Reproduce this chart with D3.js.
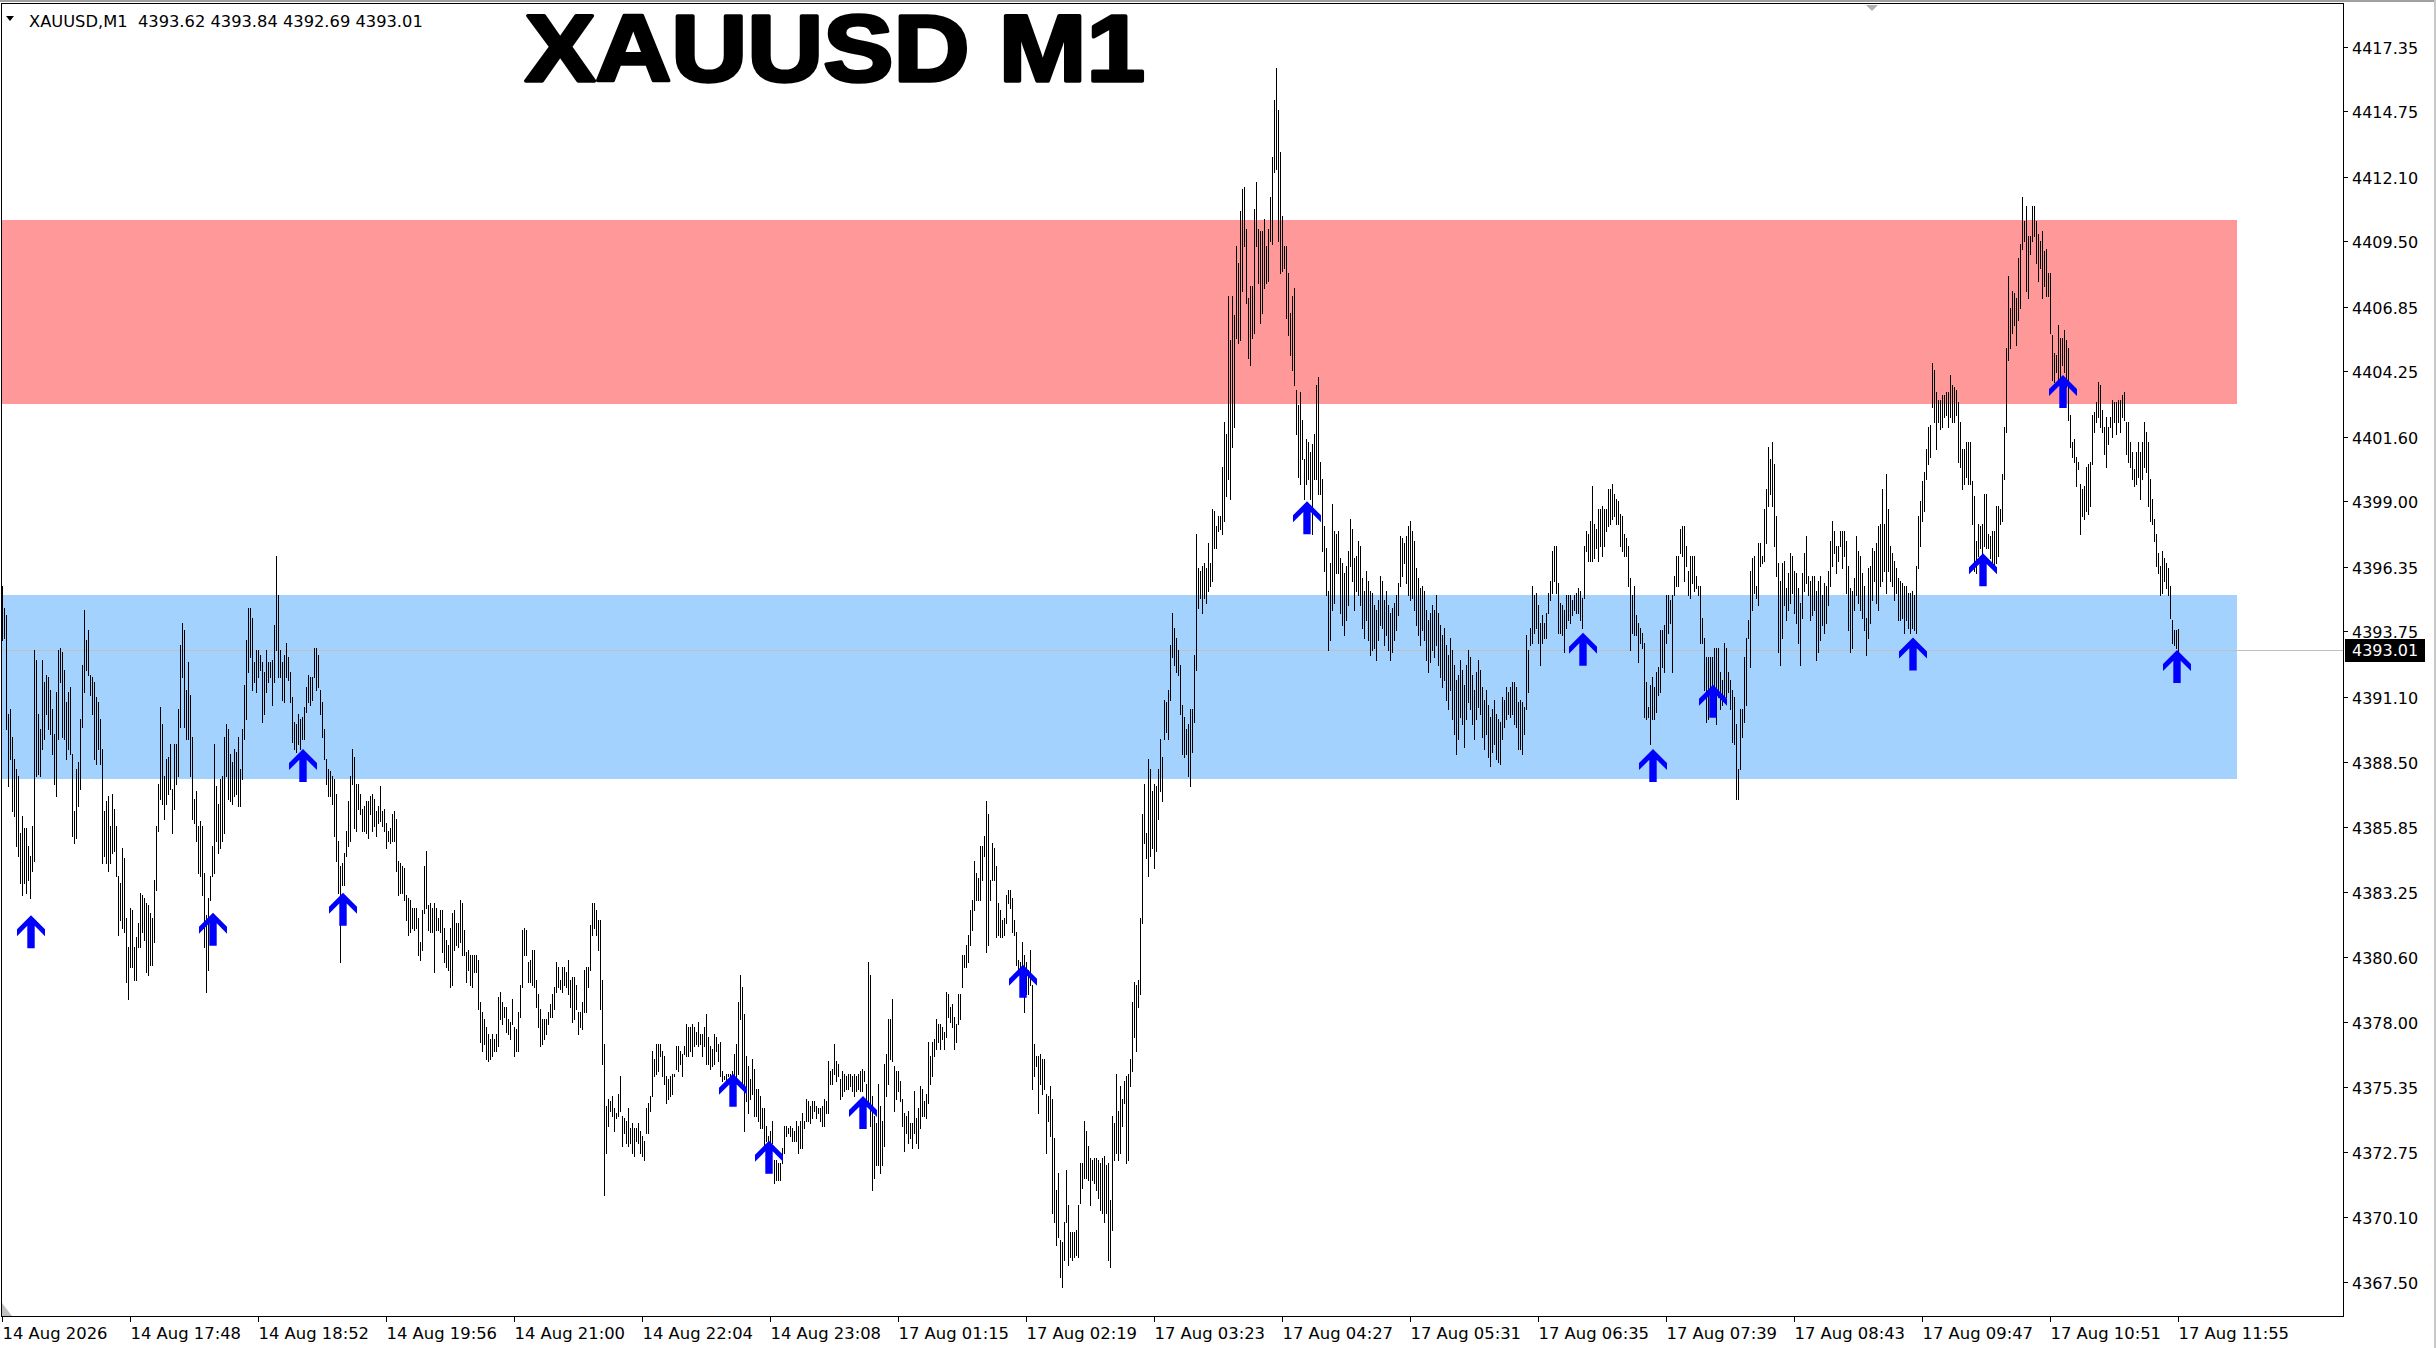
<!DOCTYPE html>
<html><head><meta charset="utf-8">
<script src="https://cdn.jsdelivr.net/npm/d3@7"></script>
<style>html,body{margin:0;padding:0;background:#fff;overflow:hidden}</style>
</head><body>
<svg id="c" width="2436" height="1348"></svg>
<script>
// ---------------- DATA ----------------
const symbol = "XAUUSD,M1";
const titleText = "XAUUSD M1";
const lastOHLC = [4393.62, 4393.84, 4392.69, 4393.01];
const timeLabels = ["14 Aug 2026","14 Aug 17:48","14 Aug 18:52","14 Aug 19:56","14 Aug 21:00","14 Aug 22:04","14 Aug 23:08","17 Aug 01:15","17 Aug 02:19","17 Aug 03:23","17 Aug 04:27","17 Aug 05:31","17 Aug 06:35","17 Aug 07:39","17 Aug 08:43","17 Aug 09:47","17 Aug 10:51","17 Aug 11:55"];
const barsPerLabel = 64;
const priceTicks = [4417.35,4414.75,4412.10,4409.50,4406.85,4404.25,4401.60,4399.00,4396.35,4393.75,4391.10,4388.50,4385.85,4383.25,4380.60,4378.00,4375.35,4372.75,4370.10,4367.50];
const zoneTops = [4410.35, 4395.22];
const zoneBottoms = [4402.93, 4387.81];
const zoneEndBar = 1117;
const arrowBars = [14,105,150,170,365,383,430,510,652,790,825,855,955,990,1030,1087];
const arrowPrices = [4382.3,4382.4,4389.0,4383.2,4375.9,4373.2,4375.0,4380.3,4399.0,4393.7,4389.0,4391.6,4393.5,4396.9,4404.1,4393.0];
const highs = [
4395.6,4394.7,4394.4,4390.4,4390.6,4389.5,4388.6,4388.2,4387.9,4385.6,
4386.3,4385.8,4385.8,4385.1,4384.7,4385.9,4393.0,4392.6,4390.4,4389.8,
4392.6,4391.7,4392.0,4391.9,4391.4,4390.6,4389.6,4391.3,4393.0,4393.1,
4392.9,4392.2,4390.9,4391.3,4391.5,4388.8,4386.5,4388.2,4388.5,4390.2,
4392.4,4394.6,4393.4,4393.8,4392.0,4391.9,4391.7,4391.1,4390.9,4390.2,
4389.0,4386.5,4386.9,4387.1,4385.9,4387.2,4386.6,4385.9,4383.9,4383.6,
4385.0,4384.6,4382.2,4381.0,4382.6,4382.5,4381.0,4381.4,4382.0,4383.2,
4383.1,4383.0,4382.8,4382.7,4382.4,4382.2,4383.7,4385.9,4387.6,4390.7,
4390.0,4387.9,4388.6,4388.7,4389.2,4387.4,4389.2,4389.2,4390.6,4393.2,
4394.1,4393.8,4391.4,4392.5,4391.2,4389.5,4387.0,4387.3,4385.9,4386.1,
4385.9,4384.0,4382.3,4383.0,4383.9,4385.1,4389.2,4387.5,4386.8,4387.8,
4387.9,4389.5,4390.0,4389.8,4388.8,4388.5,4389.0,4388.9,4389.5,4388.2,
4389.8,4391.6,4393.4,4394.7,4394.7,4394.3,4392.5,4393.0,4393.0,4392.8,
4392.5,4392.1,4393.0,4392.5,4392.5,4392.6,4394.0,4396.8,4395.2,4393.0,
4392.5,4392.8,4393.3,4392.7,4392.1,4391.1,4390.1,4390.0,4390.4,4390.2,
4390.3,4390.7,4391.5,4392.0,4391.9,4391.9,4393.1,4393.1,4392.8,4391.4,
4390.9,4389.8,4388.6,4388.2,4388.1,4387.9,4387.8,4387.2,4385.3,4384.3,
4384.4,4384.8,4385.7,4386.9,4387.9,4389.0,4388.7,4387.6,4387.6,4387.2,
4386.6,4386.7,4386.9,4386.9,4387.1,4387.2,4387.0,4386.5,4386.7,4387.5,
4386.5,4386.6,4386.0,4385.7,4385.8,4386.4,4386.5,4386.2,4384.5,4384.4,
4384.3,4384.2,4383.1,4383.0,4382.9,4382.6,4382.6,4382.6,4382.2,4381.2,
4382.5,4384.3,4384.9,4382.7,4382.8,4382.6,4382.8,4382.6,4382.2,4382.5,
4382.5,4381.8,4381.3,4381.1,4381.8,4382.4,4382.5,4382.0,4382.0,4382.9,
4382.8,4381.7,4380.8,4380.9,4380.7,4380.7,4380.7,4380.7,4380.5,4378.8,
4378.4,4378.1,4377.8,4377.5,4377.3,4377.5,4377.3,4377.5,4379.0,4379.2,
4378.8,4378.6,4378.6,4378.1,4378.0,4378.9,4377.8,4377.7,4378.4,4379.5,
4381.7,4381.8,4381.7,4380.4,4380.5,4380.9,4380.9,4379.7,4379.1,4378.5,
4378.1,4378.1,4378.1,4378.4,4378.7,4379.1,4379.4,4380.4,4380.2,4379.7,
4380.2,4380.2,4380.0,4380.5,4379.7,4379.8,4379.8,4379.5,4378.4,4378.4,
4378.8,4380.1,4380.2,4380.2,4381.9,4382.8,4382.8,4382.5,4382.1,4382.1,
4379.7,4377.1,4374.6,4374.9,4374.8,4375.0,4374.5,4374.3,4375.1,4375.8,
4374.2,4374.1,4374.0,4374.5,4373.7,4373.9,4373.7,4373.7,4373.9,4373.6,
4373.4,4373.2,4374.5,4374.7,4375.0,4376.8,4376.5,4377.1,4377.1,4377.1,
4376.8,4376.6,4375.8,4375.7,4375.8,4375.9,4375.9,4377.0,4377.0,4376.8,
4376.7,4377.0,4377.9,4377.8,4377.8,4377.9,4377.8,4377.6,4378.0,4377.5,
4377.5,4377.8,4378.3,4377.4,4377.0,4376.9,4377.5,4377.4,4377.1,4377.2,
4376.0,4375.8,4375.9,4375.9,4375.9,4376.0,4376.7,4377.1,4378.8,4379.9,
4379.4,4378.3,4376.6,4376.2,4375.7,4376.5,4376.1,4375.3,4375.3,4375.0,
4374.5,4374.5,4373.8,4373.4,4373.6,4374.0,4372.4,4372.4,4372.3,4372.3,
4372.9,4373.8,4373.8,4373.7,4373.8,4373.7,4373.6,4374.0,4373.8,4374.0,
4374.3,4374.0,4374.9,4374.8,4374.6,4374.8,4374.8,4374.6,4374.5,4374.5,
4374.6,4374.9,4374.8,4376.4,4376.0,4376.1,4377.1,4376.4,4376.3,4375.7,
4376.0,4375.9,4375.8,4375.9,4375.9,4375.8,4375.9,4375.8,4375.9,4376.0,
4376.1,4376.0,4375.5,4380.4,4379.9,4375.0,4374.2,4373.9,4375.5,4374.6,
4374.0,4376.3,4376.7,4378.1,4378.1,4378.9,4376.2,4376.0,4376.0,4375.6,
4374.9,4374.3,4374.2,4374.4,4373.9,4373.9,4375.2,4374.1,4374.5,4375.4,
4375.3,4374.8,4375.1,4377.2,4376.6,4377.2,4377.3,4378.1,4377.9,4377.9,
4377.8,4377.6,4379.2,4379.1,4378.6,4378.7,4378.2,4377.9,4379.1,4379.1,
4380.7,4380.7,4381.1,4381.5,4382.5,4382.9,4384.5,4384.0,4383.8,4385.1,
4385.1,4385.5,4386.9,4386.4,4383.7,4385.2,4385.0,4384.3,4382.8,4382.5,
4382.1,4382.2,4383.1,4383.3,4383.3,4383.0,4382.1,4381.6,4380.5,4380.4,
4381.2,4380.7,4380.4,4380.1,4380.9,4379.5,4377.1,4376.6,4376.6,4376.7,
4376.5,4376.5,4375.1,4375.0,4375.4,4374.9,4373.3,4371.2,4371.9,4369.2,
4369.1,4369.9,4372.0,4370.6,4369.5,4369.5,4369.5,4369.6,4370.6,4372.3,
4372.3,4374.0,4373.6,4373.0,4372.5,4372.4,4372.5,4372.5,4372.4,4372.3,
4372.5,4372.6,4372.2,4372.3,4370.8,4374.2,4373.9,4375.9,4374.4,4375.4,
4374.9,4375.6,4375.8,4375.9,4376.5,4378.8,4379.6,4379.5,4379.7,4382.2,
4386.4,4387.6,4385.6,4388.6,4388.2,4387.3,4387.6,4387.5,4388.2,4389.4,
4388.7,4391.0,4390.9,4391.4,4393.2,4394.5,4393.9,4393.5,4393.0,4392.4,
4390.8,4390.3,4389.8,4390.0,4390.6,4390.6,4392.8,4397.7,4396.3,4396.2,
4396.4,4396.5,4396.3,4397.3,4396.5,4398.7,4398.6,4398.0,4398.4,4398.4,
4400.4,4402.2,4401.7,4407.3,4405.5,4407.3,4406.5,4409.3,4408.6,4410.7,
4411.6,4411.7,4410.0,4407.2,4407.7,4407.7,4410.8,4411.9,4410.0,4409.9,
4409.9,4410.4,4409.3,4410.0,4411.3,4412.9,4415.2,4416.5,4414.8,4413.1,
4410.5,4409.3,4409.3,4408.2,4406.6,4407.3,4407.6,4403.5,4402.9,4403.4,
4402.3,4400.7,4401.5,4401.4,4401.0,4401.3,4401.7,4403.7,4404.0,4400.6,
4399.9,4398.0,4397.1,4395.4,4396.5,4398.9,4397.8,4397.7,4397.8,4396.7,
4396.5,4396.1,4396.4,4397.0,4398.3,4397.9,4396.7,4396.8,4397.4,4397.2,
4395.9,4395.4,4396.2,4395.8,4395.4,4395.3,4394.8,4394.6,4395.0,4396.0,
4395.8,4395.0,4395.4,4394.8,4394.5,4394.7,4394.9,4395.2,4395.7,4397.6,
4397.5,4397.3,4397.6,4398.0,4398.2,4397.8,4397.4,4396.3,4395.9,4395.5,
4395.6,4395.4,4394.6,4394.2,4394.5,4394.8,4394.6,4395.2,4394.5,4394.0,
4393.6,4393.9,4393.2,4392.8,4393.5,4393.0,4392.4,4391.8,4392.0,4392.6,
4392.2,4391.6,4392.4,4393.0,4392.7,4392.0,4391.4,4392.1,4392.6,4392.2,
4391.5,4391.0,4391.4,4390.8,4390.3,4390.6,4391.0,4390.4,4390.2,4390.1,
4391.1,4391.0,4391.5,4391.3,4391.5,4391.7,4391.7,4391.5,4390.9,4391.0,
4390.9,4390.7,4393.6,4393.0,4393.9,4395.6,4395.2,4395.3,4394.8,4394.1,
4394.4,4394.1,4394.5,4395.3,4395.8,4397.0,4397.2,4397.2,4395.7,4394.9,
4394.8,4394.6,4395.2,4395.2,4395.2,4395.0,4395.2,4395.3,4395.5,4395.4,
4395.1,4397.2,4397.8,4397.7,4398.2,4399.6,4398.1,4397.9,4398.7,4398.7,
4398.8,4398.7,4398.7,4399.5,4399.5,4399.7,4399.3,4399.1,4399.0,4398.5,
4398.4,4397.7,4397.5,4397.2,4395.9,4395.2,4395.6,4394.4,4394.1,4393.9,
4393.7,4393.3,4391.7,4390.7,4391.6,4391.9,4391.5,4392.1,4392.3,4393.8,
4393.8,4394.0,4395.2,4395.2,4395.0,4395.2,4396.0,4396.8,4396.8,4397.9,
4398.0,4398.0,4397.2,4396.2,4396.8,4396.8,4396.8,4396.0,4395.6,4395.6,
4394.3,4393.5,4392.7,4392.7,4392.7,4392.7,4393.1,4393.1,4393.1,4392.1,
4391.8,4393.3,4393.1,4392.1,4391.8,4391.4,4391.1,4390.0,4388.2,4390.6,
4390.6,4392.7,4393.5,4394.2,4396.2,4396.7,4396.8,4395.6,4397.3,4397.3,
4396.8,4398.7,4399.5,4401.2,4400.7,4401.4,4400.5,4398.4,4396.5,4395.8,
4396.5,4396.6,4395.5,4396.1,4396.9,4396.8,4396.2,4396.1,4395.5,4394.9,
4396.1,4396.9,4397.6,4396.0,4395.8,4396.0,4396.0,4395.4,4395.8,4396.0,
4395.2,4395.7,4395.6,4396.2,4397.4,4398.2,4397.8,4397.2,4397.2,4397.8,
4397.8,4397.8,4397.4,4396.4,4395.5,4395.4,4395.9,4397.6,4397.0,4396.8,
4396.1,4395.6,4394.3,4396.3,4396.4,4397.1,4397.0,4397.3,4398.0,4398.1,
4399.5,4398.1,4400.1,4398.7,4397.2,4396.9,4396.6,4396.3,4395.9,4395.8,
4395.7,4395.6,4395.6,4395.3,4395.3,4395.4,4395.2,4396.4,4398.4,4399.0,
4399.8,4400.2,4401.1,4402.0,4402.1,4404.6,4404.3,4403.4,4403.1,4403.1,
4403.3,4403.3,4403.4,4403.4,4404.1,4403.7,4403.6,4403.5,4403.0,4402.2,
4401.1,4401.1,4401.4,4401.4,4401.4,4399.8,4399.2,4397.4,4398.1,4398.0,
4398.1,4399.3,4399.3,4397.7,4397.6,4397.8,4397.8,4398.8,4398.8,4398.7,
4400.1,4402.0,4405.2,4408.1,4406.8,4407.5,4407.4,4407.2,4408.8,4409.4,
4411.3,4410.3,4410.9,4409.7,4409.7,4410.9,4410.9,4410.3,4409.8,4409.5,
4409.9,4409.1,4409.2,4408.2,4408.2,4405.7,4405.0,4404.9,4406.1,4405.6,
4405.6,4405.9,4405.5,4405.2,4402.5,4401.4,4401.5,4400.8,4400.6,4399.7,
4399.5,4399.6,4400.4,4400.5,4400.6,4402.5,4402.6,4403.0,4403.8,4403.7,
4402.7,4402.0,4402.4,4402.0,4402.4,4403.1,4403.0,4403.0,4403.1,4403.1,
4403.3,4403.4,4402.2,4402.2,4401.4,4401.0,4400.3,4401.0,4401.4,4401.0,
4401.4,4402.2,4401.8,4401.4,4399.9,4399.1,4398.3,4397.7,4396.9,4396.4,
4397.0,4396.7,4396.5,4396.3,4395.6,4394.2,4393.8,4393.8,4393.84
];
const lows = [
4393.4,4393.5,4389.8,4387.5,4388.6,4386.5,4386.3,4385.1,4384.7,4383.6,
4383.1,4383.6,4383.2,4383.7,4383.0,4384.1,4384.5,4387.9,4388.0,4387.9,
4389.0,4389.4,4390.4,4389.8,4389.6,4388.8,4387.6,4387.1,4389.4,4391.7,
4389.5,4389.4,4388.6,4389.0,4388.8,4385.5,4385.2,4385.4,4386.7,4387.4,
4389.9,4391.3,4392.2,4392.0,4391.2,4390.4,4388.6,4388.4,4389.0,4388.4,
4384.4,4384.7,4384.4,4384.1,4384.4,4384.8,4384.9,4383.9,4381.5,4382.1,
4381.8,4381.6,4379.6,4378.9,4380.2,4380.2,4379.7,4379.7,4381.0,4381.0,
4381.6,4381.3,4380.0,4379.9,4380.3,4380.3,4381.2,4383.3,4385.7,4387.0,
4386.8,4386.2,4386.8,4387.2,4387.4,4385.6,4386.6,4387.6,4387.9,4389.9,
4391.9,4389.9,4389.4,4389.4,4387.9,4386.2,4386.0,4385.3,4384.0,4383.9,
4383.1,4381.0,4379.2,4380.1,4382.9,4383.9,4384.0,4385.3,4384.8,4385.0,
4385.3,4385.6,4387.9,4387.0,4386.9,4386.8,4387.1,4387.2,4386.7,4386.7,
4387.8,4389.4,4390.2,4392.1,4392.7,4391.4,4391.7,4391.3,4391.9,4392.2,
4390.1,4390.4,4391.3,4391.7,4391.9,4390.8,4391.7,4393.0,4391.9,4391.9,
4391.0,4390.9,4391.9,4391.8,4390.9,4389.3,4389.0,4388.9,4389.2,4389.0,
4389.4,4389.4,4390.5,4390.9,4390.8,4391.0,4391.9,4391.4,4391.5,4390.4,
4389.5,4388.6,4387.6,4387.1,4387.1,4386.8,4385.5,4384.5,4383.2,4380.4,
4383.5,4383.5,4384.7,4385.1,4385.3,4387.6,4385.8,4385.7,4386.6,4386.4,
4385.7,4385.7,4385.6,4385.4,4386.4,4385.7,4385.9,4385.5,4386.0,4386.1,
4385.9,4385.7,4385.0,4385.3,4385.2,4385.3,4385.3,4384.1,4383.1,4383.2,
4383.2,4382.9,4382.1,4381.5,4381.6,4381.8,4381.7,4381.8,4380.7,4380.5,
4380.9,4382.4,4382.6,4381.7,4381.6,4381.6,4380.0,4381.7,4381.7,4381.6,
4380.8,4380.4,4380.2,4380.1,4379.4,4379.5,4380.9,4381.1,4381.0,4381.2,
4380.7,4380.7,4379.6,4380.1,4379.5,4379.4,4380.0,4380.0,4378.5,4377.2,
4376.8,4377.1,4376.5,4376.4,4376.5,4376.6,4376.8,4376.8,4377.0,4378.1,
4377.9,4378.2,4377.6,4377.5,4377.3,4377.9,4376.6,4376.8,4376.8,4378.2,
4379.4,4380.7,4380.7,4379.6,4379.6,4379.5,4379.4,4378.6,4377.8,4377.0,
4377.1,4377.3,4377.5,4377.9,4378.2,4378.2,4378.5,4379.2,4379.4,4379.3,
4379.2,4379.5,4379.4,4379.1,4378.6,4378.0,4378.1,4378.5,4377.5,4377.8,
4377.7,4378.4,4378.4,4379.4,4380.1,4381.5,4381.8,4381.5,4380.9,4378.5,
4376.3,4371.0,4372.7,4373.8,4374.4,4374.2,4373.6,4374.1,4374.2,4374.4,
4373.0,4373.5,4373.1,4373.0,4373.1,4372.7,4372.6,4373.2,4373.1,4372.7,
4372.6,4372.4,4373.5,4373.5,4374.4,4375.0,4375.8,4375.9,4376.0,4376.6,
4375.8,4375.5,4374.7,4374.9,4375.0,4375.1,4375.8,4376.1,4376.0,4376.3,
4375.8,4376.7,4376.6,4376.6,4376.8,4376.6,4377.0,4377.1,4377.0,4377.1,
4376.6,4377.0,4376.3,4376.3,4376.1,4376.2,4376.3,4376.8,4376.4,4375.8,
4375.6,4375.7,4375.6,4375.8,4375.6,4375.6,4375.2,4375.6,4375.9,4378.1,
4375.5,4373.6,4374.8,4374.3,4374.9,4375.1,4374.2,4374.2,4374.0,4373.7,
4373.7,4373.0,4373.2,4372.7,4372.7,4373.1,4371.5,4371.6,4371.6,4371.6,
4372.3,4372.7,4373.4,4373.5,4373.4,4373.2,4373.2,4373.2,4372.7,4372.9,
4372.9,4373.7,4374.0,4374.0,4373.9,4374.1,4374.4,4374.1,4374.3,4374.0,
4373.8,4373.8,4374.3,4374.3,4375.5,4375.5,4375.9,4375.6,4375.8,4374.9,
4375.0,4375.2,4375.3,4375.3,4375.4,4375.2,4375.0,4375.2,4375.3,4375.2,
4375.2,4375.6,4374.9,4374.8,4373.8,4371.2,4371.7,4372.2,4372.2,4371.9,
4372.2,4373.0,4375.0,4375.5,4376.5,4376.4,4374.4,4374.9,4375.2,4374.8,
4373.8,4372.8,4373.5,4373.1,4373.3,4372.9,4373.5,4373.1,4372.9,4373.7,
4374.2,4374.2,4374.1,4374.7,4375.5,4375.8,4376.6,4376.9,4377.2,4376.9,
4377.3,4376.9,4377.4,4378.2,4378.0,4377.8,4376.9,4377.2,4377.9,4378.1,
4379.4,4380.2,4380.2,4380.4,4381.1,4381.7,4382.5,4382.9,4382.9,4382.9,
4383.7,4384.7,4380.8,4381.1,4382.9,4383.7,4383.7,4381.4,4381.5,4381.4,
4381.4,4381.5,4382.0,4382.8,4382.6,4381.6,4381.5,4380.3,4380.1,4379.5,
4380.3,4378.4,4379.1,4379.1,4379.5,4375.3,4375.8,4376.2,4374.3,4375.5,
4375.1,4375.3,4372.7,4374.0,4373.4,4370.3,4369.9,4369.0,4369.3,4367.7,
4367.3,4368.4,4369.9,4368.2,4368.5,4368.4,4368.5,4368.6,4368.5,4370.7,
4371.3,4371.7,4371.7,4371.6,4370.6,4371.6,4371.5,4371.2,4370.9,4370.4,
4370.3,4369.9,4370.3,4368.4,4368.1,4369.6,4372.4,4372.7,4372.4,4372.7,
4373.8,4374.7,4372.3,4372.4,4375.4,4376.0,4377.4,4376.8,4378.6,4379.1,
4382.0,4385.2,4384.6,4383.9,4384.7,4385.0,4384.2,4384.9,4386.2,4387.3,
4386.9,4389.4,4389.7,4389.4,4391.0,4392.7,4392.4,4392.1,4392.0,4390.4,
4388.8,4388.7,4388.8,4387.9,4387.5,4388.9,4390.1,4392.2,4394.7,4395.1,
4394.5,4395.1,4394.9,4395.4,4395.6,4395.8,4397.1,4397.1,4397.8,4397.9,
4397.7,4398.2,4399.2,4399.9,4399.1,4401.2,4402.0,4405.6,4405.4,4405.5,
4407.5,4409.3,4407.0,4404.8,4404.5,4405.6,4405.8,4409.3,4407.8,4406.2,
4406.6,4407.6,4407.8,4407.9,4409.5,4409.4,4412.3,4412.4,4409.5,4408.2,
4408.3,4408.4,4406.4,4405.7,4404.9,4404.3,4403.7,4401.7,4400.0,4399.7,
4400.7,4399.1,4399.7,4399.9,4399.1,4397.7,4399.9,4399.9,4399.3,4399.3,
4397.0,4396.2,4395.2,4393.0,4393.4,4394.6,4394.9,4396.1,4396.1,4394.5,
4394.0,4393.6,4394.2,4394.8,4396.4,4395.8,4394.6,4395.4,4395.2,4394.8,
4393.9,4393.5,4394.2,4393.4,4392.8,4393.0,4393.1,4392.6,4393.4,4394.0,
4393.9,4393.2,4393.6,4393.0,4392.6,4392.9,4393.4,4393.8,4394.4,4395.6,
4396.0,4396.5,4395.7,4395.2,4395.0,4395.1,4394.6,4394.0,4393.6,4393.2,
4393.8,4393.4,4392.6,4392.1,4392.5,4393.0,4392.7,4393.2,4392.4,4391.9,
4391.5,4391.8,4391.0,4390.6,4391.4,4390.2,4389.6,4388.8,4389.4,4390.3,
4390.0,4389.1,4390.2,4390.9,4390.6,4390.0,4389.4,4390.2,4390.7,4390.4,
4389.5,4389.0,4389.6,4388.7,4388.3,4388.9,4389.2,4388.6,4388.5,4388.4,
4389.4,4389.9,4390.2,4390.4,4390.3,4390.4,4390.0,4389.9,4389.0,4389.0,
4388.8,4389.6,4390.6,4391.3,4393.2,4393.3,4393.7,4393.9,4393.3,4392.4,
4393.3,4393.5,4393.5,4394.5,4395.0,4395.3,4395.8,4395.3,4393.7,4393.7,
4393.6,4392.9,4393.9,4394.2,4394.1,4394.4,4394.6,4394.5,4394.5,4394.2,
4393.9,4395.1,4397.0,4396.6,4396.6,4396.6,4396.7,4397.1,4396.6,4397.2,
4396.8,4397.2,4397.8,4398.0,4398.1,4398.3,4398.4,4398.1,4398.1,4397.2,
4397.0,4396.8,4396.8,4395.6,4393.0,4393.7,4393.6,4393.6,4392.5,4393.3,
4393.1,4390.3,4390.2,4390.3,4389.2,4390.2,4390.2,4390.5,4391.2,4391.3,
4392.3,4392.1,4393.3,4393.7,4394.1,4392.1,4395.2,4395.6,4395.6,4396.9,
4396.8,4395.8,4396.4,4395.2,4395.1,4395.7,4395.4,4395.5,4395.2,4393.3,
4393.3,4391.4,4390.1,4390.2,4391.0,4390.7,4390.8,4390.0,4391.1,4390.6,
4390.8,4391.1,4391.1,4391.3,4390.6,4389.3,4389.2,4387.0,4387.0,4388.2,
4389.5,4390.1,4390.8,4393.5,4392.3,4394.6,4395.3,4395.1,4394.8,4396.4,
4396.5,4396.6,4397.3,4398.8,4399.3,4398.8,4397.2,4396.0,4392.9,4392.4,
4393.5,4394.8,4394.2,4394.6,4394.9,4395.3,4394.5,4394.1,4393.3,4392.4,
4394.3,4395.4,4395.7,4395.2,4394.2,4394.4,4394.6,4392.6,4392.9,4393.4,
4394.0,4393.7,4394.1,4394.8,4395.6,4396.4,4396.9,4396.1,4396.6,4397.2,
4396.3,4396.8,4395.3,4393.8,4392.9,4393.1,4394.6,4395.2,4394.9,4394.6,
4394.3,4393.8,4392.8,4393.5,4394.1,4395.0,4395.8,4394.9,4394.6,4395.6,
4395.8,4396.2,4395.3,4396.2,4395.8,4395.6,4395.0,4395.3,4394.2,4394.2,
4394.3,4393.7,4394.2,4393.9,4393.7,4393.9,4393.8,4393.7,4396.3,4397.2,
4398.2,4398.6,4399.9,4400.5,4400.8,4402.8,4402.2,4401.1,4402.2,4401.9,
4402.0,4402.4,4402.5,4402.0,4402.4,4402.2,4402.2,4402.5,4400.6,4400.4,
4399.5,4399.7,4400.0,4399.7,4399.7,4398.1,4396.2,4396.1,4396.8,4397.1,
4396.8,4397.2,4397.1,4397.1,4396.7,4396.5,4396.4,4396.5,4396.8,4398.1,
4398.2,4399.9,4401.8,4404.7,4405.2,4405.8,4406.1,4405.3,4406.3,4406.8,
4409.2,4409.5,4407.5,4407.2,4409.0,4409.5,4409.7,4408.6,4407.9,4408.4,
4407.2,4407.7,4407.3,4407.3,4405.8,4403.9,4403.8,4404.2,4403.8,4403.8,
4404.5,4404.2,4403.6,4402.3,4401.2,4400.8,4400.6,4399.6,4400.3,4397.7,
4398.4,4398.3,4398.6,4398.5,4398.8,4400.5,4401.8,4402.2,4402.4,4402.0,
4401.8,4400.9,4400.4,4401.3,4402.0,4401.6,4402.2,4401.7,4402.2,4401.8,
4402.4,4402.3,4400.9,4400.6,4400.4,4399.9,4399.6,4399.7,4400.0,4399.1,
4399.9,4400.4,4400.2,4398.8,4398.2,4398.1,4397.4,4396.4,4396.1,4395.2,
4395.3,4395.8,4395.5,4395.2,4394.3,4393.3,4393.2,4393.1,4392.69
];

// ---------------- LAYOUT ----------------
const W = 2436, H = 1348;
const plot = {left: 1, top: 4, right: 2343, bottom: 1316};
const FONT = "'DejaVu Sans', Verdana, sans-serif";

const svg = d3.select("#c");
const n = highs.length;
const x = d3.scaleLinear().domain([0, 1088]).range([2.5, 2178.5]);
const y = d3.scaleLinear().domain([4367.5, 4417.35]).range([1281.9, 46.6]);

// background
svg.append("rect").attr("x",0).attr("y",0).attr("width",W).attr("height",H).attr("fill","#fff");
svg.append("rect").attr("x",0).attr("y",0).attr("width",W).attr("height",2).attr("fill","#a0a0a0");
svg.append("rect").attr("x",W-2).attr("y",0).attr("width",2).attr("height",H).attr("fill","#c8c8c8");

const gPlot = svg.append("g");

// zones
const zoneColors = ["#FF9999", "#A4D2FF"];
zoneTops.forEach((t, k) => {
  const y0 = Math.round(y(t)), y1 = Math.round(y(zoneBottoms[k]));
  gPlot.append("rect")
    .attr("x", plot.left).attr("y", y0)
    .attr("width", Math.round(x(zoneEndBar)) - plot.left)
    .attr("height", y1 - y0)
    .attr("fill", zoneColors[k]);
});

// bid line
const bidY = Math.round(y(lastOHLC[3])) + 0.5;
gPlot.append("line").attr("x1", plot.left).attr("x2", plot.right).attr("y1", bidY).attr("y2", bidY)
  .attr("stroke", "#c0c0c0").attr("stroke-width", 1).attr("shape-rendering","crispEdges");

// bars
const bars = d3.range(n).map(i => ({i, h: Math.max(highs[i], lows[i]), l: Math.min(highs[i], lows[i])}));
gPlot.append("g").attr("shape-rendering","crispEdges")
  .selectAll("rect").data(bars).join("rect")
  .attr("x", d => Math.floor(x(d.i)))
  .attr("y", d => Math.round(y(d.h)))
  .attr("width", 1)
  .attr("height", d => Math.max(1, Math.round(y(d.l)) - Math.round(y(d.h)) + 1))
  .attr("fill", "#000");

// arrows
const arrowPath = "M0,0 L14,14 L14,21 L3.7,10.7 L3.7,33 L-3.7,33 L-3.7,10.7 L-14,21 L-14,14 Z";
gPlot.append("g").selectAll("path").data(arrowBars.map((b, k) => ({b, p: arrowPrices[k]}))).join("path")
  .attr("d", arrowPath)
  .attr("transform", d => `translate(${x(d.b) + 0.5},${y(d.p)})`)
  .attr("fill", "#0000FF");

// frame
svg.append("rect").attr("x", plot.left + 0.5).attr("y", plot.top - 0.5)
  .attr("width", plot.right - plot.left).attr("height", plot.bottom - plot.top + 1)
  .attr("fill","none").attr("stroke","#000").attr("stroke-width",1).attr("shape-rendering","crispEdges");

// small shift markers
svg.append("path").attr("d", "M1866,5 L1878,5 L1872,11 Z").attr("fill", "#b0b0b0");
svg.append("path").attr("d", "M2,1303 L2,1316 L12,1316 Z").attr("fill", "#c0c0c0");

// price axis
const gY = svg.append("g");
priceTicks.forEach(t => {
  const yy = Math.round(y(t)) + 0.5;
  gY.append("line").attr("x1", plot.right).attr("x2", plot.right + 5).attr("y1", yy).attr("y2", yy)
    .attr("stroke","#000").attr("shape-rendering","crispEdges");
  gY.append("text").attr("x", plot.right + 9).attr("y", yy + 6)
    .attr("font-family", FONT).attr("font-size", 16).attr("fill", "#000")
    .text(t.toFixed(2));
});
// current price box
const bidRaw = y(lastOHLC[3]);
svg.append("rect").attr("x", plot.right + 2).attr("y", Math.round(bidRaw) - 11)
  .attr("width", 80).attr("height", 23).attr("fill", "#000");
svg.append("text").attr("x", plot.right + 9).attr("y", Math.round(bidRaw) + 6)
  .attr("font-family", FONT).attr("font-size", 16).attr("fill", "#fff")
  .text(lastOHLC[3].toFixed(2));

// time axis
const gX = svg.append("g");
timeLabels.forEach((lab, k) => {
  const xx = Math.floor(x(k * barsPerLabel)) + 0.5;
  gX.append("line").attr("x1", xx).attr("x2", xx).attr("y1", plot.bottom).attr("y2", plot.bottom + 6)
    .attr("stroke","#000").attr("shape-rendering","crispEdges");
  gX.append("text").attr("x", xx).attr("y", 1339)
    .attr("font-family", FONT).attr("font-size", 16.4).attr("fill", "#000")
    .text(lab);
});

// header
svg.append("path").attr("d", "M6,16 L14,16 L10,21 Z").attr("fill", "#000");
svg.append("text").attr("x", 29).attr("y", 27)
  .attr("font-family", FONT).attr("font-size", 16.3).attr("fill", "#000")
  .attr("xml:space","preserve")
  .text(symbol + "  " + lastOHLC.map(v => v.toFixed(2)).join(" "));

// title
svg.append("text").attr("x", 525).attr("y", 81)
  .attr("font-family", "'Liberation Sans', Arial, sans-serif").attr("font-weight", "bold")
  .attr("font-size", 95).attr("fill", "#000").attr("stroke", "#000").attr("stroke-width", 3.5)
  .attr("stroke-linejoin","round")
  .attr("textLength", 620).attr("lengthAdjust", "spacingAndGlyphs")
  .text(titleText);
</script>
</body></html>
